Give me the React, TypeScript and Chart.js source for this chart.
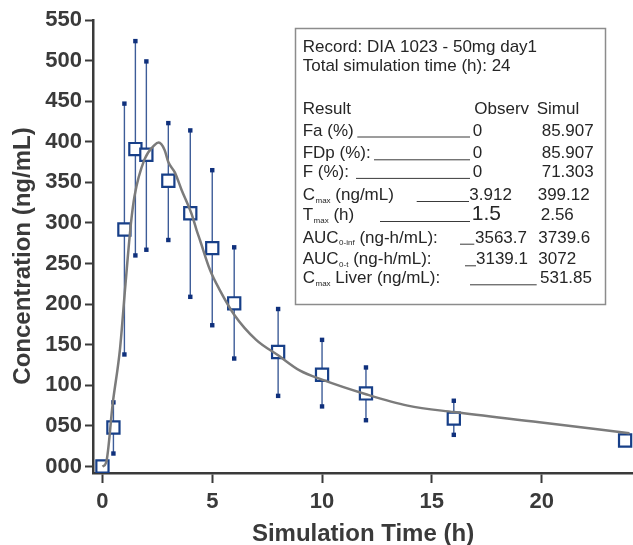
import React, { useEffect, useRef } from "react";
import { Chart, registerables } from "chart.js";

Chart.register(...registerables);

// ---- Data ----
const simTimes = [0, 0.17, 0.47, 0.8, 1.05, 1.3, 1.46, 1.91, 2.37, 2.56, 2.83, 3.0, 3.3, 3.6, 4.06, 4.29, 4.44, 4.9, 5.35, 6.0, 7.0, 8.0, 9.0, 10, 12, 13.9, 16, 19.9, 24];
const simConc = [0, 5, 78, 145, 225, 300, 333, 378, 396, 399, 390, 375, 362, 341, 311, 291, 279, 242, 217, 187, 156, 137, 118, 107, 89, 75, 67, 54.5, 41];

const obsTimes = [0, 0.5, 1, 1.5, 2, 3, 4, 5, 6, 8, 10, 12, 16, 23.8];
const obsMean = [0, 48, 292, 391, 384, 352, 312, 269, 201, 141, 113, 90, 59, 32];
const obsUpper = [null, 79, 447, 524, 499, 423, 414, 365, 270, 194, 156, 122, 81, null];
const obsLower = [null, 16, 138, 260, 267, 279, 209, 174, 133, 87, 74, 57, 39, null];

const xTickValues = [0, 5, 10, 15, 20];
const yTickValues = [0, 50, 100, 150, 200, 250, 300, 350, 400, 450, 500, 550];
const yTickLabels = ["000", "050", "100", "150", "200", "250", "300", "350", "400", "450", "500", "550"];

const xTitle = "Simulation Time (h)";
const yTitle = "Concentration (ng/mL)";

const headerLines = ["Record: DIA 1023 - 50mg day1", "Total simulation time (h): 24"];
const columnHeaders = ["Result", "Observ", "Simul"];
const resultNames: [string, string, string][] = [
  ["Fa (%)", "", ""],
  ["FDp (%):", "", ""],
  ["F (%):", "", ""],
  ["C", "max", " (ng/mL)"],
  ["T", "max", " (h)"],
  ["AUC", "0-inf", " (ng-h/mL):"],
  ["AUC", "0-t", " (ng-h/mL):"],
  ["C", "max", " Liver (ng/mL):"],
];
const observValues = ["0", "0", "0", "3.912", "1.5", "3563.7", "3139.1", ""];
const simulValues = ["85.907", "85.907", "71.303", "399.12", "2.56", "3739.6", "3072", "531.85"];

// ---- Styles ----
const FONT = '"Liberation Sans", Arial, Helvetica, sans-serif';
const AXIS_COLOR = "#3a3a3a";
const TEXT_COLOR = "#262626";

const errorBarPlugin = {
  id: "errorBars",
  beforeDatasetsDraw(chart: any) {
    const meta = chart.getDatasetMeta(1);
    const yScale = chart.scales.y;
    const ctx = chart.ctx;
    ctx.save();
    meta.data.forEach((pt: any, i: number) => {
      const hi = obsUpper[i];
      const lo = obsLower[i];
      if (hi == null || lo == null) return;
      const x = pt.x;
      const yh = yScale.getPixelForValue(hi);
      const yl = yScale.getPixelForValue(lo);
      ctx.strokeStyle = "#3d5c98";
      ctx.lineWidth = 1.4;
      ctx.beginPath();
      ctx.moveTo(x, yh);
      ctx.lineTo(x, yl);
      ctx.stroke();
      ctx.fillStyle = "#0f307c";
      ctx.fillRect(x - 2.2, yh - 2.2, 4.4, 4.4);
      ctx.fillRect(x - 2.2, yl - 2.2, 4.4, 4.4);
    });
    ctx.restore();
  },
};

const yTitlePlugin = {
  id: "yTitle",
  afterDraw(chart: any) {
    const ctx = chart.ctx;
    ctx.save();
    ctx.translate(23, 256);
    ctx.rotate(-Math.PI / 2);
    ctx.font = `bold 24px ${FONT}`;
    ctx.fillStyle = AXIS_COLOR;
    ctx.textAlign = "center";
    ctx.textBaseline = "middle";
    ctx.fillText(yTitle, 0, 0);
    ctx.restore();
  },
};

const rowY = [135.5, 158.3, 176.9, 200, 220, 242.7, 264.3, 283.3];
const obsX = [472.7, 472.7, 472.7, 469.3, 471.7, 475, 476, 0];
const simX = [541.7, 541.7, 541.7, 537.7, 540.7, 538.3, 538.3, 540];
const ulStart = [357.3, 374, 356, 416.7, 380, 460, 465, 470];
const ulEnd = [470, 470, 470, 469, 470, 474.3, 476, 536.7];

const infoBoxPlugin = {
  id: "infoBox",
  afterDraw(chart: any) {
    const ctx = chart.ctx;
    ctx.save();
    ctx.fillStyle = "#ffffff";
    ctx.fillRect(295, 28, 310, 276);
    ctx.strokeStyle = "#8c8c8c";
    ctx.lineWidth = 1.5;
    ctx.strokeRect(295.5, 28.5, 310, 276);

    const main = `17px ${FONT}`;
    const sub = `8px ${FONT}`;
    ctx.fillStyle = TEXT_COLOR;
    ctx.textBaseline = "alphabetic";
    ctx.textAlign = "left";
    ctx.font = main;
    ctx.fillText(headerLines[0], 302.7, 51.5);
    ctx.fillText(headerLines[1], 302.7, 70.5);
    ctx.fillText(columnHeaders[0], 302.7, 114.3);
    ctx.fillText(columnHeaders[1], 474.3, 114.3);
    ctx.fillText(columnHeaders[2], 536.7, 114.3);

    resultNames.forEach((parts, i) => {
      const y = rowY[i];
      let x = 302.7;
      ctx.font = main;
      ctx.fillText(parts[0], x, y);
      x += ctx.measureText(parts[0]).width;
      if (parts[1]) {
        ctx.font = sub;
        ctx.fillText(parts[1], x + 0.5, y + 2.5);
        x += ctx.measureText(parts[1]).width + 0.5;
        ctx.font = main;
      }
      if (parts[2]) ctx.fillText(parts[2], x, y);

      ctx.strokeStyle = "#3a3a3a";
      ctx.lineWidth = 1;
      ctx.beginPath();
      ctx.moveTo(ulStart[i], y + 1.5);
      ctx.lineTo(ulEnd[i], y + 1.5);
      ctx.stroke();

      if (observValues[i]) {
        ctx.font = observValues[i] === "1.5" ? `21px ${FONT}` : main;
        ctx.fillText(observValues[i], obsX[i], y);
      }
      ctx.font = main;
      ctx.fillText(simulValues[i], simX[i], y);
    });
    ctx.restore();
  },
};

export default function App() {
  const canvasRef = useRef<HTMLCanvasElement | null>(null);

  useEffect(() => {
    const canvas = canvasRef.current;
    if (!canvas) return;
    const chart = new Chart(canvas, {
      type: "scatter",
      data: {
        datasets: [
          {
            label: "Simulated",
            data: simTimes.map((t, i) => ({ x: t, y: simConc[i] })),
            showLine: true,
            borderColor: "#7b7b7b",
            borderWidth: 2.5,
            pointRadius: 0,
            cubicInterpolationMode: "monotone",
            fill: false,
          },
          {
            label: "Observed",
            data: obsTimes.map((t, i) => ({ x: t, y: obsMean[i] })),
            showLine: false,
            pointStyle: "rect",
            pointRadius: 8.6,
            pointBorderWidth: 2.2,
            borderColor: "#173f88",
            pointBorderColor: "#173f88",
            pointBackgroundColor: "#ffffff",
            backgroundColor: "#ffffff",
          },
        ],
      } as any,
      options: {
        responsive: false,
        animation: false,
        devicePixelRatio: 1,
        layout: { autoPadding: false, padding: { top: 20, right: 0, bottom: 0, left: 0 } },
        plugins: {
          legend: { display: false },
          tooltip: { enabled: false },
        },
        scales: {
          x: {
            type: "linear",
            min: -0.43,
            max: 24.16,
            afterBuildTicks: (axis: any) => {
              axis.ticks = xTickValues.map((v) => ({ value: v }));
            },
            afterFit: (scale: any) => {
              scale.height = 72;
              scale.paddingRight = 0;
              scale.paddingLeft = 0;
            },
            ticks: {
              color: AXIS_COLOR,
              font: { family: FONT, size: 22, weight: "bold" },
              padding: 6,
              maxRotation: 0,
              callback: (v: any) => String(v),
            },
            grid: {
              drawOnChartArea: false,
              drawTicks: true,
              tickLength: 10,
              tickColor: AXIS_COLOR,
              tickWidth: 2,
            },
            border: { display: true, color: AXIS_COLOR, width: 2.5 },
            title: {
              display: true,
              text: xTitle,
              color: AXIS_COLOR,
              font: { family: FONT, size: 24, weight: "bold", lineHeight: 1 },
              padding: { top: 0, bottom: -1 },
            },
          },
          y: {
            type: "linear",
            min: -8,
            max: 550,
            afterBuildTicks: (axis: any) => {
              axis.ticks = yTickValues.map((v) => ({ value: v }));
            },
            afterFit: (scale: any) => {
              scale.width = 93;
            },
            ticks: {
              color: AXIS_COLOR,
              font: { family: FONT, size: 22, weight: "bold" },
              padding: 3,
              callback: (v: any) => {
                const idx = yTickValues.indexOf(Number(v));
                return idx >= 0 ? yTickLabels[idx] : "";
              },
            },
            grid: {
              drawOnChartArea: false,
              drawTicks: true,
              tickLength: 8,
              tickColor: AXIS_COLOR,
              tickWidth: 2,
            },
            border: { display: true, color: AXIS_COLOR, width: 2.5 },
            title: { display: false },
          },
        },
      } as any,
      plugins: [errorBarPlugin, yTitlePlugin, infoBoxPlugin],
    });
    return () => chart.destroy();
  }, []);

  return (
    <div style={{ position: "fixed", left: 0, top: 0, width: 633, height: 545, background: "#ffffff" }}>
      <canvas ref={canvasRef} width={633} height={545} style={{ display: "block" }} />
    </div>
  );
}
